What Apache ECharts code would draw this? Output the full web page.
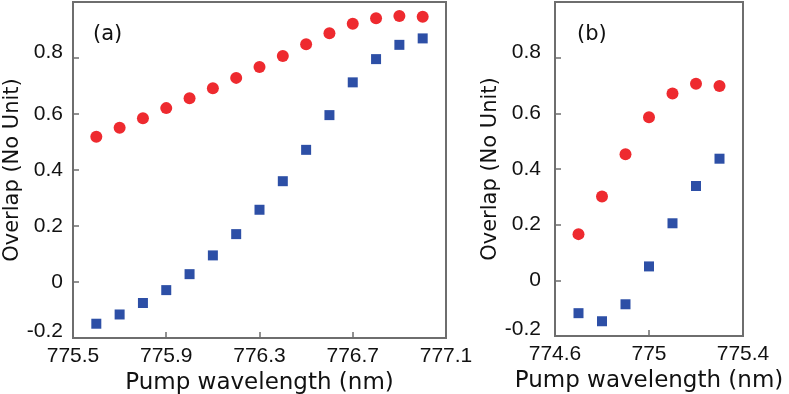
<!DOCTYPE html>
<html>
<head>
<meta charset="utf-8">
<script src="https://cdn.jsdelivr.net/npm/echarts@6/dist/echarts.min.js"></script>
<style>
  html, body { margin: 0; padding: 0; background: #fff; }
  #chart { width: 789px; height: 394px; }
</style>
</head>
<body>
<div id="chart"></div>
<script>
// panel (a)
const wavelengthA = [775.6, 775.7, 775.8, 775.9, 776.0, 776.1, 776.2, 776.3, 776.4, 776.5, 776.6, 776.7, 776.8, 776.9, 777.0];
const redA = [0.519, 0.551, 0.585, 0.621, 0.656, 0.692, 0.729, 0.768, 0.807, 0.849, 0.888, 0.922, 0.942, 0.950, 0.947];
const blueA = [-0.149, -0.116, -0.075, -0.029, 0.028, 0.095, 0.171, 0.258, 0.360, 0.472, 0.596, 0.713, 0.796, 0.847, 0.870];

// panel (b)
const wavelengthB = [774.7, 774.8, 774.9, 775.0, 775.1, 775.2, 775.3];
const redB = [0.166, 0.301, 0.453, 0.586, 0.671, 0.706, 0.698];
const blueB = [-0.118, -0.147, -0.086, 0.050, 0.205, 0.339, 0.437];

const RED = '#ee2a2f';
const BLUE = '#2d4fa6';
const AXIS = '#6e6e6e';

function pairs(xs, ys) {
    return xs.map((x, i) => [x, ys[i]]);
}

function xAxisCfg(idx, min, max) {
    return {
        type: 'value', gridIndex: idx, min: min, max: max, interval: 0.4,
        name: 'Pump wavelength (nm)', nameLocation: 'middle', nameGap: 25,
        nameTextStyle: {fontFamily: 'DejaVu Sans', fontSize: 23, color: '#111'},
        axisLine: {show: false, onZero: false},
        axisTick: {show: true, inside: true, length: 6, lineStyle: {color: AXIS, width: 1.5}},
        splitLine: {show: false},
        axisLabel: {
            fontFamily: 'Liberation Sans', fontSize: 21, color: '#111', margin: 8,
            formatter: v => String(+v.toFixed(1))
        }
    };
}

function yAxisCfg(idx, gap, margin) {
    return {
        type: 'value', gridIndex: idx, min: -0.2, max: 1.0, interval: 0.2,
        name: 'Overlap (No Unit)', nameLocation: 'middle', nameGap: gap,
        nameTextStyle: {fontFamily: 'DejaVu Sans', fontSize: 21, color: '#111'},
        axisLine: {show: false, onZero: false},
        axisTick: {show: true, inside: true, length: 6, lineStyle: {color: AXIS, width: 1.5}},
        splitLine: {show: false},
        axisLabel: {
            fontFamily: 'Liberation Sans', fontSize: 21, color: '#111', margin: margin,
            formatter: function (v) {
                if (v > 0.9) return '';
                let s = String(+v.toFixed(1));
                if (v < -0.1) return '{lo|' + s + '}';
                if (v > 0.7) return '{hi|' + s + '}';
                return s;
            },
            rich: {
                lo: {fontFamily: 'Liberation Sans', fontSize: 21, color: '#111', padding: [0, 0, 14, 0]},
                hi: {fontFamily: 'Liberation Sans', fontSize: 21, color: '#111', padding: [0, 0, 11, 0]}
            }
        }
    };
}

let chartDom = document.getElementById('chart');
let myChart = echarts.init(chartDom, null, {renderer: 'canvas'});

let option = {
    animation: false,
    backgroundColor: '#fff',
    grid: [
        {left: 73, right: 343, top: 2, bottom: 56, outerBoundsMode: 'none', containLabel: false,
            show: true, borderColor: AXIS, borderWidth: 2, backgroundColor: 'transparent'},
        {left: 555, right: 46, top: 2, bottom: 58, outerBoundsMode: 'none', containLabel: false,
            show: true, borderColor: AXIS, borderWidth: 2, backgroundColor: 'transparent'}
    ],
    xAxis: [xAxisCfg(0, 775.5, 777.1), xAxisCfg(1, 774.6, 775.4)],
    yAxis: [yAxisCfg(0, 50, 10), yAxisCfg(1, 54, 14)],
    graphic: [
        {type: 'text', left: 93, top: 24, style: {text: '(a)', font: '21px "DejaVu Sans"', fill: '#111'}},
        {type: 'text', left: 577, top: 24, style: {text: '(b)', font: '21px "DejaVu Sans"', fill: '#111'}}
    ],
    series: [
        {type: 'scatter', xAxisIndex: 0, yAxisIndex: 0, symbol: 'circle', symbolSize: 12,
            itemStyle: {color: RED, opacity: 1}, data: pairs(wavelengthA, redA)},
        {type: 'scatter', xAxisIndex: 0, yAxisIndex: 0, symbol: 'rect', symbolSize: 10,
            itemStyle: {color: BLUE, opacity: 1}, data: pairs(wavelengthA, blueA)},
        {type: 'scatter', xAxisIndex: 1, yAxisIndex: 1, symbol: 'circle', symbolSize: 12,
            itemStyle: {color: RED, opacity: 1}, data: pairs(wavelengthB, redB)},
        {type: 'scatter', xAxisIndex: 1, yAxisIndex: 1, symbol: 'rect', symbolSize: 10,
            itemStyle: {color: BLUE, opacity: 1}, data: pairs(wavelengthB, blueB)}
    ]
};

myChart.setOption(option);
</script>
</body>
</html>
